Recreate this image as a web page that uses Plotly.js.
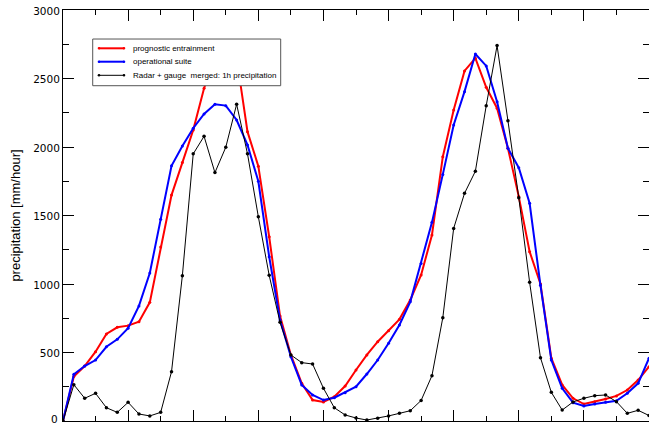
<!DOCTYPE html>
<html>
<head>
<meta charset="utf-8">
<script src="https://cdn.plot.ly/plotly-3.0.1.min.js"></script>
<style>
html,body{margin:0;padding:0;background:#fff;}
#chart{width:649px;height:426px;}
</style>
</head>
<body>
<div id="chart"></div>
<script>
// time steps (x positions of the samples)
var timeSteps = [0,1,2,3,4,5,6,7,8,9,10,11,12,13,14,15,16,17,18,19,20,21,22,23,24,25,26,27,28,29,30,31,32,33,34,35,36,37,38,39,40,41,42,43,44,45,46,47,48,49,50,51,52,53,54];

// series names
var seriesNames = ["prognostic entrainment", "operational suite", "Radar + gauge  merged: 1h precipitation"];

// prognostic entrainment (red)
var prognostic = [0,324,401,506,635,684,696,725,866,1270,
  1649,1886,2124,2429,2650,2720,2650,2112,1860,1345,
  766,482,275,153,139,177,255,372,482,579,
  659,742,883,1066,1358,1929,2270,2555,2648,2436,
  2283,1991,1638,1236,1000,458,263,166,124,141,
  161,183,226,299,396];

// operational suite (blue)
var operational = [0,341,401,445,542,596,677,840,1080,1472,
  1863,2007,2137,2241,2312,2302,2197,2015,1750,1199,
  737,469,263,190,153,170,207,250,343,445,
  567,701,870,1150,1450,1800,2161,2404,2679,2592,
  2331,1991,1849,1589,990,445,239,134,110,124,
  136,148,202,275,458];

// radar + gauge merged (black)
var radarGauge = [0,265,166,202,97,63,136,51,37,63,
  360,1061,1950,2078,1813,1998,2312,1951,1491,1063,
  720,482,426,416,239,97,44,22,7,20,
  37,56,75,150,331,754,1406,1662,1823,2302,
  2740,2192,1630,1012,462,209,80,139,166,185,
  190,141,56,78,40];

// y tick labels; the bottom "0" is placed as an annotation so it stays inside the page
var yTickVals = [0,500,1000,1500,2000,2500,3000];
var yTickText = ["","500","1000","1500","2000","2500","3000"];
var yZeroLabel = "0";

var seriesColors = ["#ff0000", "#0000ff", "#000000"];
var lineWidths = [2, 2, 1];
var seriesValues = [prognostic, operational, radarGauge];

var traces = seriesValues.map(function (vals, k) {
  return {x: timeSteps, y: vals, name: seriesNames[k], type: "scatter", mode: "lines+markers",
    line: {color: seriesColors[k], width: lineWidths[k]},
    marker: {color: seriesColors[k], size: k === 2 ? 3.5 : 3},
    showlegend: false};
});

// hand-built legend box (matches the compact legend of the original)
var legBox = {x0: 0.0507, x1: 0.3715, y0: 0.8158, y1: 0.9294};
var legRows = [0.9068, 0.8742, 0.8411];
var legLineX = [0.0614, 0.1041];
var legTextX = 0.1155;

var shapes = [{type: "rect", xref: "paper", yref: "paper",
  x0: legBox.x0, x1: legBox.x1, y0: legBox.y0, y1: legBox.y1,
  fillcolor: "#ffffff", line: {color: "#555555", width: 1}, layer: "above"}];
var annotations = [];
legRows.forEach(function (ry, k) {
  shapes.push({type: "line", xref: "paper", yref: "paper",
    x0: legLineX[0], x1: legLineX[1], y0: ry, y1: ry,
    line: {color: seriesColors[k], width: lineWidths[k]}, layer: "above"});
  legLineX.forEach(function (lx) {
    shapes.push({type: "circle", xref: "paper", yref: "paper",
      xsizemode: "pixel", ysizemode: "pixel", xanchor: lx, yanchor: ry,
      x0: -1.3, x1: 1.3, y0: -1.3, y1: 1.3,
      fillcolor: seriesColors[k], line: {width: 0}, layer: "above"});
  });
  annotations.push({xref: "paper", yref: "paper", x: legTextX, y: ry,
    xanchor: "left", yanchor: "middle", showarrow: false, text: seriesNames[k],
    font: {family: "Liberation Sans, Arial, sans-serif", size: 8, color: "#000"}});
});

annotations.push({xref: "paper", yref: "y", x: 0, y: yTickVals[0],
  xanchor: "right", yanchor: "bottom", xshift: -4, yshift: -5, borderpad: 0,
  showarrow: false, text: yZeroLabel,
  font: {family: "DejaVu Sans, sans-serif", size: 10.5, color: "#000"}});

var layout = {
  width: 649, height: 426,
  margin: {l: 63, r: 0, t: 10, b: 5, pad: 0},
  paper_bgcolor: "#ffffff", plot_bgcolor: "#ffffff",
  font: {family: "Liberation Sans, Arial, sans-serif", color: "#000", size: 13},
  showlegend: false,
  shapes: shapes,
  annotations: annotations,
  xaxis: {range: [0, 54], showgrid: false, zeroline: false,
    showline: true, linecolor: "#000", linewidth: 1, mirror: "allticks",
    ticks: "inside", ticklen: 11, tickcolor: "#000", tickwidth: 1,
    tick0: 0, dtick: 6, showticklabels: false,
    minor: {ticks: "inside", ticklen: 5, tickcolor: "#000", dtick: 3, showgrid: false}},
  yaxis: {range: [0, 3000], showgrid: false, zeroline: false,
    showline: true, linecolor: "#000", linewidth: 1, mirror: "allticks",
    ticks: "inside", ticklen: 11, tickcolor: "#000", tickwidth: 1,
    tickmode: "array", tickvals: yTickVals, ticktext: yTickText,
    ticklabelshift: 1,
    tickfont: {family: "DejaVu Sans, sans-serif", size: 10.5, color: "#000"},
    minor: {ticks: "inside", ticklen: 6, tickcolor: "#000", dtick: 250, showgrid: false},
    title: {text: "precipitation [mm/hour]", standoff: 9,
      font: {family: "Liberation Sans, Arial, sans-serif", size: 13, color: "#000"}}}
};

Plotly.newPlot("chart", traces, layout, {displayModeBar: false, staticPlot: true});
</script>
</body>
</html>
